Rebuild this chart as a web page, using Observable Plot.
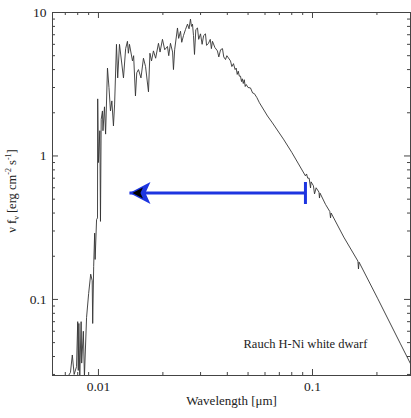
<!DOCTYPE html>
<html><head><meta charset="utf-8">
<script src="https://cdn.jsdelivr.net/npm/d3@7"></script>
<script src="https://cdn.jsdelivr.net/npm/@observablehq/plot@0.6"></script>
<style>body{margin:0;background:#fff} svg{display:block} svg text{font-family:"Liberation Serif","Times New Roman",serif !important}</style>
</head><body><div id="chart"></div>
<script>
// Spectrum: wavelength in µm, νfν in erg cm^-2 s^-1
const wavelength = [
  0.0072, 0.0074, 0.00755, 0.0077, 0.0079, 0.0080, 0.00805, 0.0081, 0.00818, 0.0083,
  0.00835, 0.0085, 0.0086, 0.0088, 0.0090, 0.0092, 0.00935, 0.0094, 0.0095, 0.0096,
  0.00965, 0.0098, 0.0099, 0.00992, 0.0100, 0.01015, 0.01022, 0.0103, 0.01044, 0.0105,
  0.01067, 0.0108, 0.01102, 0.0112, 0.01138, 0.01155, 0.01175, 0.0119, 0.01214, 0.0123,
  0.01254, 0.01309, 0.0134, 0.01366, 0.0138, 0.01396, 0.01442, 0.0146, 0.01489, 0.0151,
  0.01538, 0.0158, 0.01623, 0.0166, 0.01713, 0.0174, 0.0177, 0.01807, 0.0185, 0.01907,
  0.0194, 0.01991, 0.0204, 0.02101, 0.0213, 0.0217, 0.0222, 0.02241, 0.0227, 0.0234,
  0.0237, 0.02417, 0.0245, 0.02496, 0.0255, 0.02606, 0.0265, 0.02691, 0.0272, 0.0275,
  0.0278, 0.0281, 0.0285, 0.02902, 0.0294, 0.02998, 0.0305, 0.0310, 0.03162, 0.0320,
  0.03266, 0.0333, 0.0337, 0.0341, 0.0350, 0.03597, 0.0365, 0.0372, 0.03797, 0.0385,
  0.03922, 0.0398, 0.04139, 0.0420, 0.04274, 0.0435, 0.0440, 0.0445, 0.0450, 0.0455,
  0.04610, 0.0466, 0.0470, 0.0475, 0.0480, 0.0485, 0.0490, 0.0500, 0.05132, 0.0525,
  0.0535, 0.0550, 0.0565, 0.06163, 0.0650, 0.07318, 0.0800, 0.08603, 0.0927, 0.0938,
  0.0950, 0.0965, 0.0979, 0.0985, 0.1010, 0.1022, 0.1040, 0.1072, 0.1078, 0.1085,
  0.1150, 0.1205, 0.1214, 0.1222, 0.1400, 0.1630, 0.1640, 0.1650, 0.2013, 0.2577, 0.2871
];
const flux = [
  0.029, 0.031, 0.041, 0.030, 0.034, 0.070, 0.032, 0.068, 0.029, 0.070,
  0.036, 0.060, 0.029, 0.075, 0.11, 0.15, 0.135, 0.068, 0.17, 0.29,
  0.19, 0.36, 0.37, 2.5, 0.9, 1.5, 0.35, 1.8, 2.06, 1.5,
  2.2, 1.42, 4.1, 3.0, 2.06, 2.42, 1.62, 2.3, 6.0, 3.5,
  6.0, 3.5, 5.6, 6.3, 5.2, 6.0, 4.6, 5.0, 2.62, 3.8,
  4.0, 3.5, 4.8, 4.2, 2.8, 5.2, 4.6, 5.4, 4.8, 6.1,
  5.3, 6.5, 5.5, 5.8, 5.0, 6.1, 5.3, 4.0, 5.5, 7.8,
  6.6, 7.4, 6.2, 6.9, 7.6, 8.3, 7.7, 9.0, 8.0, 8.3,
  6.9, 5.1, 7.6, 7.8, 6.5, 7.1, 6.0, 6.9, 7.1, 5.9,
  6.1, 6.5, 5.6, 6.3, 5.7, 5.4, 4.9, 5.5, 5.6, 4.9,
  4.7, 5.0, 4.6, 4.2, 4.4, 4.0, 4.1, 3.7, 3.9, 3.6,
  3.6, 3.3, 3.45, 3.2, 3.4, 3.05, 3.15, 3.0, 2.98, 2.75,
  2.72, 2.55, 2.35, 1.90, 1.70, 1.31, 1.06, 0.88, 0.726, 0.749,
  0.70, 0.70, 0.598, 0.66, 0.62, 0.544, 0.60, 0.56, 0.509, 0.55,
  0.46, 0.41, 0.37, 0.40, 0.272, 0.185, 0.163, 0.182, 0.102, 0.049, 0.0356
];

// Axis ticks and labels
const xMajorTicks = [0.01, 0.1];
const xMinorTicks = [0.007, 0.008, 0.009, 0.02, 0.03, 0.04, 0.05, 0.06, 0.07, 0.08, 0.09, 0.2];
const yMajorTicks = [0.1, 1, 10];
const yMinorTicks = [0.03, 0.04, 0.05, 0.06, 0.07, 0.08, 0.09, 0.2, 0.3, 0.4, 0.5, 0.6, 0.7, 0.8, 0.9, 2, 3, 4, 5, 6, 7, 8, 9];
const xDomain = [0.0061, 0.287];
const yDomain = [0.0295, 10];
const xLabel = "Wavelength [\u03bcm]";
const annotationText = ["Rauch H-Ni white dwarf"];
const annotationWavelength = [0.0927];
const annotationFlux = [0.049];

// Blue arrow (from bar to arrowhead)
const arrowStartWavelength = [0.0927];
const arrowEndWavelength = [0.01396];
const arrowFlux = [0.552];

const spectrum = wavelength.map((w, i) => ({w, f: flux[i]}));
const W = 411, H = 418;
const mL = 52, mR = 1, mT = 12, mB = 43;
const innerW = W - mL - mR, innerH = H - mT - mB;
const blue = "#1d35e0";
const serif = "Liberation Serif, Times New Roman, serif";

const headSymbol = (scale) => ({
  draw(ctx, size) {
    const s = Math.sqrt(size / Math.PI) / 10 * scale;
    ctx.moveTo(0, 0);
    ctx.lineTo(21 * s, -11 * s);
    ctx.lineTo(16 * s, 0);
    ctx.lineTo(21 * s, 11 * s);
    ctx.closePath();
  }
});
const barSymbol = {
  draw(ctx, size) {
    const s = Math.sqrt(size / Math.PI) / 10;
    ctx.moveTo(-1.5 * s, -11 * s);
    ctx.lineTo(1.5 * s, -11 * s);
    ctx.lineTo(1.5 * s, 11 * s);
    ctx.lineTo(-1.5 * s, 11 * s);
    ctx.closePath();
  }
};

const arrows = arrowStartWavelength.map((x1, i) => ({x1, x2: arrowEndWavelength[i], y: arrowFlux[i]}));
const annotations = annotationText.map((t, i) => ({t, x: annotationWavelength[i], y: annotationFlux[i]}));

const plot = Plot.plot({
  width: W, height: H,
  marginLeft: mL, marginRight: mR, marginTop: mT, marginBottom: mB,
  style: {fontFamily: serif, fontSize: "13px", color: "#222", background: "#fff"},
  x: {type: "log", domain: xDomain, axis: null},
  y: {type: "log", domain: yDomain, axis: null},
  marks: [
    Plot.tickX(xMinorTicks, {x: d => d, insetTop: innerH - 3, stroke: "#444"}),
    Plot.tickX(xMinorTicks, {x: d => d, insetBottom: innerH - 3, stroke: "#444"}),
    Plot.tickX(xMajorTicks, {x: d => d, insetTop: innerH - 6, stroke: "#444"}),
    Plot.tickX(xMajorTicks, {x: d => d, insetBottom: innerH - 6, stroke: "#444"}),
    Plot.tickY(yMinorTicks, {y: d => d, insetRight: innerW - 3, stroke: "#444"}),
    Plot.tickY(yMinorTicks, {y: d => d, insetLeft: innerW - 3, stroke: "#444"}),
    Plot.tickY(yMajorTicks, {y: d => d, insetRight: innerW - 6, stroke: "#444"}),
    Plot.tickY(yMajorTicks, {y: d => d, insetLeft: innerW - 6, stroke: "#444"}),
    Plot.axisX(xMajorTicks, {anchor: "bottom", tickSize: 0, tickPadding: 6, tickFormat: d => String(d), label: null, fontSize: 13.5, fontFamily: serif}),
    Plot.axisY(yMajorTicks, {anchor: "left", tickSize: 0, tickPadding: 6, tickFormat: d => String(d), label: null, fontSize: 13.5, fontFamily: serif}),
    Plot.line(spectrum, {x: "w", y: "f", stroke: "#333", strokeWidth: 0.9, clip: true}),
    Plot.frame({stroke: "#444", strokeWidth: 1}),
    Plot.link(arrows, {x1: "x1", x2: "x2", y1: "y", y2: "y", stroke: blue, strokeWidth: 3}),
    Plot.dot(arrows, {x: "x1", y: "y", r: 10, symbol: barSymbol, fill: blue, stroke: "none"}),
    Plot.dot(arrows, {x: "x2", y: "y", r: 10, symbol: headSymbol(1), fill: blue, stroke: "none"}),
    Plot.dot(arrows, {x: "x2", y: "y", r: 10, symbol: headSymbol(0.5), fill: "#000", stroke: "none", dx: 3}),
    Plot.text(annotations, {x: "x", y: "y", text: "t", fontSize: 12.5, fill: "#222", fontFamily: serif}),
    Plot.text([xLabel], {frameAnchor: "bottom", text: d => d, dy: 29, fontSize: 13, fill: "#222", fontFamily: serif})
  ]
});

// rotated y-axis label with sub/superscripts
const svg = d3.select(plot);
const yl = svg.append("text")
  .attr("transform", "translate(16,191) rotate(-90)")
  .attr("text-anchor", "middle")
  .attr("font-family", serif)
  .attr("font-size", 12.5)
  .attr("fill", "#222");
yl.append("tspan").text("\u03bd f");
yl.append("tspan").attr("font-size", 8).attr("dy", 3).text("\u03bd");
yl.append("tspan").attr("dy", -3).text(" [erg cm");
yl.append("tspan").attr("font-size", 8).attr("dy", -5).text("-2");
yl.append("tspan").attr("dy", 5).text(" s");
yl.append("tspan").attr("font-size", 8).attr("dy", -5).text("-1");
yl.append("tspan").attr("dy", 5).text("]");

document.getElementById("chart").appendChild(plot);
</script>
</body></html>
